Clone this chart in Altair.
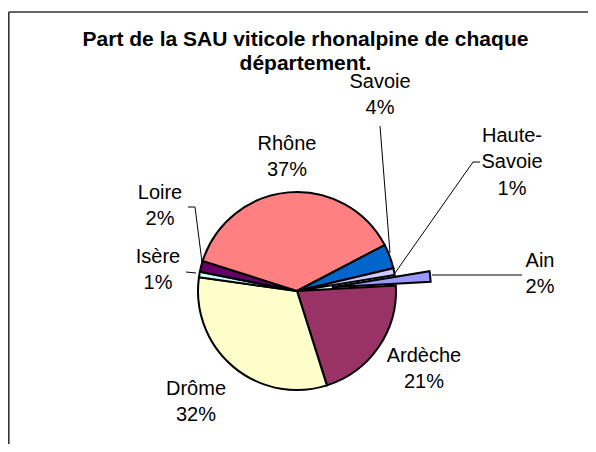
import math
import altair as alt
import pandas as pd

# ---- data ----
departements = ["Ain", "Ardèche", "Drôme", "Isère", "Loire", "Rhône", "Savoie", "Haute-Savoie"]
parts = [1.7, 21.0, 32.1, 0.9, 1.8, 37.4, 4.0, 1.1]
label_names = ["Ain", "Ardèche", "Drôme", "Isère", "Loire", "Rhône", "Savoie", "Haute-\nSavoie"]
colors = ["#9999FF", "#993366", "#FFFFCC", "#CCFFFF", "#660066", "#FF8080", "#0066CC", "#CCCCFF"]
title_lines = ["Part de la SAU viticole rhonalpine de chaque", "département."]

# ---- layout ----
W, H = 580, 436
CX, CY = 289, 283
R = 99
START = math.radians(80.7)
EXPLODE = 35
FONT = "Liberation Sans"
LINE_H = 26.5
label_dx = [243, 127, -101, -139, -137, -10, 83, 215]
label_dy = [-17, 78, 111, -21, -85, -134, -196, -129]   # centre of each label block
label_lines = [n.count("\n") + 2 for n in label_names]
leader_segments = [  # (x1, y1, x2, y2) relative to the pie centre
    (135, -16, 225, -16),      # Ain
    (-111, -19, -101, -18),    # Isère
    (-109, -84, -102, -84),    # Loire
    (-102, -84, -95, -29),
    (83, -165, 93, -38),       # Savoie
    (183, -129, 176, -129),    # Haute-Savoie
    (176, -129, 98, -18),
]
title_y = [38, 62]

df = pd.DataFrame({
    "idx": list(range(len(departements))),
    "dep": departements,
    "part": parts,
    "label": label_names,
    "lx": [CX + d for d in label_dx],
    # first-line position so that the whole block is centred on label_dy
    "ly": [CY + d - (n - 1) * LINE_H / 2 for d, n in zip(label_dy, label_lines)],
})

base = alt.Chart(df).transform_window(
    end="sum(part)", sort=[alt.SortField("idx")], frame=[None, 0]
).transform_calculate(start="datum.end - datum.part")

theta = alt.Theta("start:Q", stack=None,
                  scale=alt.Scale(domain=[0, 100], range=[START, START + 2 * math.pi]))
color = alt.Color("dep:N", scale=alt.Scale(domain=departements, range=colors), legend=None)

arcs = base.transform_filter("datum.dep != 'Ain'").mark_arc(
    stroke="black", strokeWidth=2
).encode(
    theta=theta, theta2="end:Q", color=color,
    radius=alt.value(R), x=alt.value(CX), y=alt.value(CY),
)

mid = START + 2 * math.pi * (parts[0] / 2) / 100
ain = base.transform_filter("datum.dep == 'Ain'").mark_arc(
    stroke="black", strokeWidth=2
).encode(
    theta=theta, theta2="end:Q", color=color,
    radius=alt.value(R),
    x=alt.value(CX + EXPLODE * math.sin(mid)),
    y=alt.value(CY - EXPLODE * math.cos(mid)),
)

labels = alt.Chart(df).transform_calculate(
    txt="datum.label + '\\n' + format(datum.part, '.0f') + '%'"
).mark_text(
    font=FONT, fontSize=20, lineBreak="\n", lineHeight=LINE_H,
    align="center", baseline="middle", color="black"
).encode(
    x=alt.X("lx:Q", scale=None), y=alt.Y("ly:Q", scale=None), text="txt:N"
)

seg_df = pd.DataFrame({
    "x1": [CX + s[0] for s in leader_segments],
    "y1": [CY + s[1] for s in leader_segments],
    "x2": [CX + s[2] for s in leader_segments],
    "y2": [CY + s[3] for s in leader_segments],
})
leaders = alt.Chart(seg_df).mark_rule(color="black", strokeWidth=1).encode(
    x=alt.X("x1:Q", scale=None), y=alt.Y("y1:Q", scale=None),
    x2="x2:Q", y2="y2:Q",
)

title_df = pd.DataFrame({"t": title_lines, "ty": title_y})
title = alt.Chart(title_df).mark_text(
    font=FONT, fontSize=21, fontWeight="bold", align="center",
    baseline="alphabetic", color="black"
).encode(x=alt.value(297.5), y=alt.Y("ty:Q", scale=None), text="t:N")

one = alt.Chart(pd.DataFrame({"a": [0]}))
frame_top = one.mark_rule(color="#333333", strokeWidth=1.6).encode(
    x=alt.value(0.8), x2=alt.value(W), y=alt.value(4))
frame_left = one.mark_rule(color="#333333", strokeWidth=1.6).encode(
    x=alt.value(0.8), y=alt.value(4), y2=alt.value(H))

chart = alt.layer(
    frame_top, frame_left, leaders, arcs, ain, labels, title
).properties(
    width=W, height=H, padding=0, autosize="none"
).configure_view(stroke=None)

chart.save("out.html", embed_options={"renderer": "svg", "actions": False})
